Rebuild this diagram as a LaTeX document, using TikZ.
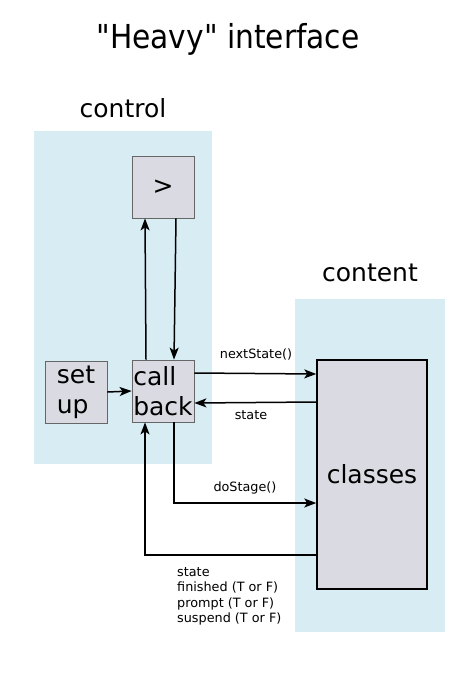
\documentclass[tikz,border=0pt]{standalone}
\usepackage{fontspec}
\setmainfont{DejaVu Sans}
\newfontfamily\condfont{DejaVu Sans Condensed}
\usepackage{xcolor}
\usetikzlibrary{arrows.meta}
\definecolor{panelblue}{HTML}{D7ECF3}
\definecolor{boxgray}{HTML}{DADAE2}
\tikzset{
  block/.style={draw=black!60, fill=boxgray, line width=0.8, minimum width=62, minimum height=62,
    inner sep=1, align=left, font=\fontsize{25}{30}\selectfont},
  link/.style={-{Stealth[length=12,width=9,inset=3]}, line width=1.5},
  lbl/.style={font=\fontsize{12.8}{15.6}\selectfont},
  head/.style={font=\fontsize{25}{30}\selectfont},
}

\begin{document}
\begin{tikzpicture}[x=1pt,y=-1pt]
\useasboundingbox (0,0) rectangle (475,676);

% panels
\fill[panelblue] (34,131) rectangle (212,464);
\fill[panelblue] (295,299) rectangle (445,632);

\node[font=\condfont\fontsize{33}{38}\selectfont] (title) at (228,39) {"Heavy" interface};
\node[head] (ctrl) at (123,108) {control};
\node[head] (cont) at (370,273) {content};

% boxes
\node[block] (next) at (163,187) {>};
\node[block] (setup) at (76,392) {set\\up};
\node[block] (callback) at (163,391) {call\\back};
\node[block, draw=black, line width=1.5, minimum width=110, minimum height=229, align=center] (classes) at (372,474.5) {classes};

% links
\draw[link] ([xshift=-17]callback.north) -- ([xshift=-18]next.south);
\draw[link] ([xshift=13]next.south) -- ([xshift=11]callback.north);
\draw[link] (setup.east) -- (callback.west);

\draw[link] ([yshift=18]callback.east) -- ([yshift=100.5]classes.west);
\draw[link] ([yshift=72.5]classes.west) -- ([yshift=-12]callback.east);
\draw[link] ([xshift=11]callback.south) |- ([yshift=-28.5]classes.west);
\draw[link] ([yshift=-80.5]classes.west) -| ([xshift=-18]callback.south);

\node[lbl] (nextlbl) at (256,354) {nextState()};
\node[lbl] (statelbl) at (251,415) {state};
\node[lbl] (stagelbl) at (245,488) {doStage()};
\node[lbl, align=left, anchor=north west, inner sep=0] (retlbl) at (177,567)
  {state\\finished (T or F)\\prompt (T or F)\\suspend (T or F)};

\end{tikzpicture}
\end{document}
